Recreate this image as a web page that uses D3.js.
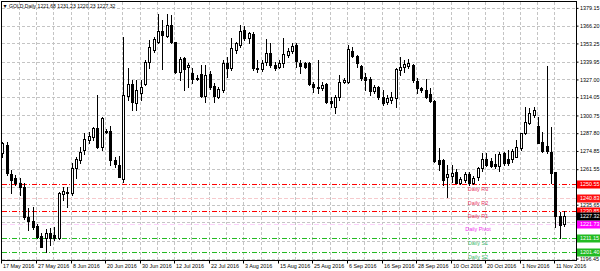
<!DOCTYPE html>
<html>
<head>
<meta charset="utf-8">
<script src="https://cdn.jsdelivr.net/npm/d3@7.9.0/dist/d3.min.js"></script>
<style>
  html, body { margin: 0; padding: 0; background: #fff; }
  svg { display: block; font-family: "Liberation Sans", Arial, sans-serif; }
</style>
</head>
<body>
<div id="chart"></div>
<script>
// ---------- Data ----------
const symbol = "GOLD,Daily";

// one label every 8 daily bars, starting at the first bar
const dateLabels = [
  "17 May 2016", "27 May 2016", "8 Jun 2016", "20 Jun 2016", "30 Jun 2016",
  "12 Jul 2016", "22 Jul 2016", "3 Aug 2016", "15 Aug 2016", "25 Aug 2016",
  "6 Sep 2016", "16 Sep 2016", "28 Sep 2016", "10 Oct 2016", "20 Oct 2016",
  "1 Nov 2016", "11 Nov 2016"
];
const barsPerLabel = 8;

const open = [
  1273.1, 1279.2, 1258.1, 1254.9, 1251.2, 1248.8, 1226.4, 1223.8, 1220.1, 1212.8,
  1211.6, 1214.8, 1213.6, 1211.1, 1243.5, 1245.2, 1244.0, 1262.2, 1268.3, 1275.6,
  1282.9, 1285.3, 1291.8, 1278.0, 1289.2, 1289.4, 1268.3, 1264.6, 1254.2, 1314.9,
  1323.7, 1309.6, 1317.4, 1323.7, 1339.9, 1348.5, 1354.6, 1362.6, 1358.7, 1366.7,
  1354.1, 1332.7, 1342.4, 1335.8, 1331.5, 1327.3, 1331.0, 1315.2, 1331.0, 1322.2,
  1314.4, 1319.3, 1339.2, 1335.1, 1348.5, 1352.1, 1363.1, 1357.0, 1360.2, 1335.6,
  1334.4, 1339.9, 1346.5, 1337.5, 1336.3, 1338.8, 1344.8, 1348.0, 1352.1, 1339.2,
  1338.8, 1339.2, 1323.4, 1321.3, 1320.5, 1323.4, 1311.3, 1307.2, 1314.4, 1325.4,
  1325.4, 1348.0, 1344.1, 1336.8, 1329.0, 1327.3, 1318.8, 1321.3, 1314.4, 1310.8,
  1312.0, 1313.2, 1333.9, 1336.3, 1336.8, 1337.5, 1326.1, 1320.5, 1319.3, 1316.4,
  1311.3, 1268.3, 1268.3, 1256.1, 1256.6, 1259.8, 1251.7, 1253.7, 1258.1, 1251.7,
  1256.1, 1262.2, 1268.8, 1267.8, 1265.4, 1263.9, 1273.1, 1268.8, 1268.8, 1270.7,
  1276.8, 1287.7, 1295.0, 1301.1, 1293.1, 1281.6, 1278.7, 1274.4, 1259.8, 1227.4,
  1221.68
];
const high = [
  1281.6, 1281.6, 1261.0, 1257.0, 1254.9, 1251.7, 1233.0, 1233.7, 1221.6, 1214.8,
  1217.7, 1218.4, 1219.6, 1245.2, 1248.3, 1248.8, 1265.8, 1270.7, 1278.0, 1288.2,
  1288.9, 1292.6, 1315.7, 1299.9, 1290.6, 1293.1, 1270.7, 1271.2, 1358.2, 1335.1,
  1326.6, 1326.6, 1326.6, 1341.2, 1355.8, 1358.2, 1374.7, 1370.4, 1374.7, 1374.0,
  1354.6, 1343.6, 1343.6, 1338.8, 1335.1, 1330.2, 1337.5, 1337.5, 1333.4, 1324.2,
  1321.3, 1341.2, 1343.6, 1357.0, 1354.6, 1366.7, 1366.0, 1361.9, 1361.9, 1341.2,
  1341.2, 1356.3, 1353.3, 1339.9, 1341.2, 1357.0, 1349.7, 1353.3, 1353.3, 1341.2,
  1339.9, 1339.9, 1325.4, 1341.2, 1325.4, 1324.7, 1314.4, 1315.7, 1330.2, 1327.8,
  1352.1, 1350.9, 1344.8, 1337.5, 1331.5, 1328.5, 1322.9, 1322.2, 1319.3, 1315.7,
  1318.1, 1335.1, 1343.6, 1341.2, 1341.7, 1338.0, 1327.8, 1321.7, 1327.1, 1320.5,
  1312.0, 1276.8, 1268.8, 1264.6, 1264.6, 1261.5, 1256.1, 1259.8, 1259.8, 1256.6,
  1263.4, 1273.1, 1273.1, 1269.5, 1272.6, 1274.4, 1274.4, 1275.6, 1276.1, 1282.9,
  1288.2, 1307.2, 1305.9, 1306.7, 1299.9, 1288.9, 1336.8, 1292.6, 1259.8, 1230.6,
  1231.23
];
const low = [
  1270.2, 1257.3, 1243.9, 1250.0, 1242.7, 1225.5, 1217.2, 1217.7, 1211.1, 1204.6,
  1200.9, 1206.3, 1209.9, 1210.4, 1239.1, 1234.2, 1242.7, 1254.9, 1265.8, 1272.6,
  1280.4, 1282.9, 1276.8, 1275.6, 1287.7, 1264.6, 1263.4, 1255.6, 1252.5, 1312.0,
  1304.7, 1304.7, 1312.0, 1322.9, 1335.1, 1347.3, 1353.3, 1334.4, 1358.2, 1353.3,
  1331.5, 1326.6, 1319.3, 1321.7, 1324.2, 1326.6, 1314.0, 1310.8, 1319.8, 1310.8,
  1313.2, 1318.1, 1329.0, 1333.9, 1346.0, 1350.9, 1355.8, 1353.8, 1333.9, 1332.7,
  1333.4, 1337.5, 1336.3, 1333.9, 1335.1, 1336.3, 1343.6, 1346.5, 1336.3, 1331.5,
  1335.1, 1322.9, 1318.1, 1316.9, 1319.3, 1309.6, 1307.2, 1302.3, 1312.0, 1324.2,
  1324.7, 1343.1, 1336.3, 1326.6, 1319.3, 1315.7, 1316.9, 1312.8, 1308.4, 1309.1,
  1309.6, 1307.2, 1330.2, 1332.7, 1335.1, 1325.4, 1316.9, 1318.1, 1313.2, 1310.8,
  1267.0, 1261.0, 1250.0, 1241.5, 1252.5, 1251.2, 1250.8, 1252.5, 1250.0, 1250.8,
  1253.7, 1260.5, 1263.9, 1263.4, 1262.2, 1260.5, 1264.6, 1264.6, 1267.0, 1270.2,
  1275.6, 1287.2, 1294.5, 1299.9, 1280.4, 1274.4, 1273.1, 1251.7, 1219.6, 1211.1,
  1220.23
];
const close = [
  1280.4, 1258.5, 1253.7, 1251.7, 1248.8, 1226.4, 1224.0, 1219.6, 1211.9, 1205.1,
  1214.8, 1211.6, 1211.1, 1244.4, 1245.7, 1244.0, 1262.2, 1268.8, 1274.4, 1283.3,
  1285.8, 1291.4, 1278.0, 1298.6, 1288.4, 1268.3, 1265.4, 1256.1, 1315.7, 1323.7,
  1310.8, 1319.3, 1321.7, 1339.9, 1350.9, 1356.3, 1362.6, 1359.2, 1366.7, 1354.1,
  1332.7, 1341.9, 1334.4, 1337.5, 1327.3, 1328.3, 1315.2, 1330.2, 1321.7, 1314.9,
  1319.8, 1338.8, 1335.1, 1349.7, 1353.3, 1362.6, 1357.0, 1360.6, 1335.1, 1334.6,
  1339.2, 1346.0, 1337.5, 1335.1, 1339.2, 1345.6, 1348.0, 1351.4, 1340.4, 1337.0,
  1336.3, 1323.7, 1321.3, 1321.0, 1322.9, 1310.8, 1309.6, 1314.4, 1325.4, 1326.6,
  1349.0, 1344.1, 1338.8, 1327.8, 1326.6, 1318.6, 1321.3, 1314.0, 1309.6, 1313.2,
  1314.0, 1334.4, 1336.3, 1338.3, 1338.8, 1326.6, 1320.5, 1319.3, 1314.4, 1311.3,
  1267.5, 1265.4, 1253.7, 1258.1, 1258.5, 1251.7, 1254.2, 1258.1, 1251.2, 1255.4,
  1262.2, 1269.0, 1264.6, 1264.1, 1264.1, 1272.6, 1265.8, 1265.8, 1275.1, 1278.0,
  1287.7, 1296.2, 1302.3, 1304.7, 1280.9, 1275.1, 1275.1, 1258.5, 1227.4, 1220.9,
  1227.32
];

// right price scale
const priceTicks = [
  1379.15, 1366.20, 1353.25, 1339.95, 1327.00, 1314.05, 1300.75, 1287.80,
  1274.85, 1261.55, 1248.60, 1235.65, 1222.70, 1209.40, 1196.45
];

// daily pivot levels
const levelNames = ["Daily R3", "Daily R2", "Daily R1", "Daily Pivot", "Daily S1", "Daily S2"];
const levelValues = [1250.55, 1240.83, 1230.85, 1221.73, 1211.15, 1201.40];
const lastPrice = 1227.32;

// ---------- Layout ----------
const width = 600;
const height = 271;
const plot = { left: 1.5, right: 576.5, top: 1.5, bottom: 260.5 };

const levelStyle = {
  "Daily R3":    { line: "#ff0000", dash: "5,2,1,2", box: "#ff0000", text: "#e8325e" },
  "Daily R2":    { line: "#f6cacd", dash: "4,2",     box: "#ff1010", text: "#e8325e" },
  "Daily R1":    { line: "#ff0000", dash: "5,2,1,2", box: "#ff0000", text: "#e8325e" },
  "Daily Pivot": { line: "#fad2fa", dash: "5,3",     box: "#ff00ff", text: "#ee33ee" },
  "Daily S1":    { line: "#22bb22", dash: "5,2,1,2", box: "#22bb22", text: "#3cb96a" },
  "Daily S2":    { line: "#22bb22", dash: "5,2,1,2", box: "#22bb22", text: "#3cb96a" }
};

const svg = d3.select("#chart")
  .append("svg")
  .attr("width", width)
  .attr("height", height)
  .attr("viewBox", [0, 0, width, height]);

// ---------- Scales ----------
const nBars = open.length;
const x = d3.scaleLinear().domain([0, nBars - 1]).range([2.4, 564.0]);
const y = d3.scaleLinear().domain([1196.45, 1379.15]).range([258.5, 7.9]);

const px = (i) => Math.round(x(i));
const py = (v) => Math.round(y(v));

// ---------- Grid ----------
const grid = svg.append("g")
  .attr("stroke", "#c4c4c4")
  .attr("stroke-dasharray", "3,2")
  .attr("shape-rendering", "crispEdges");

grid.selectAll("line.h")
  .data(priceTicks)
  .join("line")
  .attr("class", "h")
  .attr("x1", plot.left).attr("x2", plot.right)
  .attr("y1", (d) => py(d) + 0.5).attr("y2", (d) => py(d) + 0.5);

const gridIdx = d3.range(4, nBars, 4);
grid.selectAll("line.v")
  .data(gridIdx)
  .join("line")
  .attr("class", "v")
  .attr("x1", (d) => px(d) - 0.5).attr("x2", (d) => px(d) - 0.5)
  .attr("y1", plot.top).attr("y2", plot.bottom);

// ---------- Pivot level lines ----------
const levels = levelNames.map((name, k) => ({ name, value: levelValues[k] }));

svg.append("line")
  .attr("x1", plot.left).attr("x2", plot.right)
  .attr("y1", py(lastPrice) + 0.5).attr("y2", py(lastPrice) + 0.5)
  .attr("stroke", "#c0c0c0")
  .attr("shape-rendering", "crispEdges");

svg.append("g")
  .attr("shape-rendering", "crispEdges")
  .selectAll("line")
  .data(levels)
  .join("line")
  .attr("x1", plot.left).attr("x2", plot.right)
  .attr("y1", (d) => py(d.value) + 0.5).attr("y2", (d) => py(d.value) + 0.5)
  .attr("stroke", (d) => levelStyle[d.name].line)
  .attr("stroke-dasharray", (d) => levelStyle[d.name].dash);

// ---------- Candles ----------
const bars = d3.range(nBars).map((i) => ({
  i, o: open[i], h: high[i], l: low[i], c: close[i]
}));

const candles = svg.append("g")
  .attr("shape-rendering", "crispEdges")
  .selectAll("g")
  .data(bars)
  .join("g");

candles.append("line")
  .attr("x1", (d) => px(d.i) + 0.5).attr("x2", (d) => px(d.i) + 0.5)
  .attr("y1", (d) => py(d.h)).attr("y2", (d) => py(d.l) + 1)
  .attr("stroke", "#000");

candles.each(function (d) {
  const g = d3.select(this);
  const xc = px(d.i);
  const top = py(Math.max(d.o, d.c));
  const bot = py(Math.min(d.o, d.c));
  if (bot - top < 1) {
    g.append("rect").attr("x", xc - 1).attr("y", top).attr("width", 3).attr("height", 1).attr("fill", "#000");
  } else if (d.c >= d.o) {
    g.append("rect")
      .attr("x", xc - 0.5).attr("y", top + 0.5)
      .attr("width", 2).attr("height", bot - top)
      .attr("fill", "#fff").attr("stroke", "#000");
  } else {
    g.append("rect")
      .attr("x", xc - 1).attr("y", top)
      .attr("width", 3).attr("height", bot - top + 1)
      .attr("fill", "#000");
  }
});

// ---------- Level captions ----------
svg.append("g")
  .attr("font-size", 5.4)
  .attr("text-anchor", "middle")
  .selectAll("text")
  .data(levels)
  .join("text")
  .attr("x", 478)
  .attr("y", (d) => py(d.value) + 6.5)
  .attr("fill", (d) => levelStyle[d.name].text)
  .text((d) => d.name);

// ---------- Frame ----------
svg.append("rect")
  .attr("x", plot.left).attr("y", plot.top)
  .attr("width", plot.right - plot.left)
  .attr("height", plot.bottom - plot.top)
  .attr("fill", "none")
  .attr("stroke", "#000")
  .attr("shape-rendering", "crispEdges");

// ---------- Right price axis ----------
const boxes = levels.map((d) => d.value).concat([lastPrice]);
const visibleTicks = priceTicks.filter((t) => boxes.every((b) => Math.abs(y(t) - y(b)) > 5));

const yAxis = svg.append("g")
  .attr("transform", `translate(${plot.right},0)`)
  .call(
    d3.axisRight(y)
      .tickValues(visibleTicks)
      .tickSize(2)
      .tickPadding(1.5)
      .tickFormat(d3.format(".2f"))
  );
yAxis.select(".domain").remove();
yAxis.selectAll("text").attr("font-size", 5.4).attr("font-family", null).attr("fill", "#000");
yAxis.selectAll("line").attr("stroke", "#000");

const boxData = levels.map((d) => ({ value: d.value, fill: levelStyle[d.name].box }))
  .concat([{ value: lastPrice, fill: "#000" }]);

const boxG = svg.append("g").selectAll("g").data(boxData).join("g")
  .attr("transform", (d) => `translate(${plot.right + 0.5},${py(d.value) + 0.5})`);
boxG.append("rect")
  .attr("x", 0).attr("y", -4)
  .attr("width", width - plot.right).attr("height", 8)
  .attr("fill", (d) => d.fill);
boxG.append("text")
  .attr("x", 3).attr("dy", "0.35em")
  .attr("font-size", 5.4)
  .attr("fill", "#fff")
  .text((d) => d3.format(".2f")(d.value));

// ---------- Bottom date axis ----------
const labelIdx = dateLabels.map((_, k) => k * barsPerLabel);
const xAxis = svg.append("g")
  .attr("transform", `translate(0,${plot.bottom})`)
  .call(
    d3.axisBottom(x)
      .tickValues(labelIdx)
      .tickSize(3)
      .tickFormat((d) => dateLabels[d / barsPerLabel])
  );
xAxis.select(".domain").remove();
xAxis.selectAll(".tick").attr("transform", (d) => `translate(${px(d) - 0.5},0)`);
xAxis.selectAll("line").attr("stroke", "#000");
xAxis.selectAll("text")
  .attr("font-size", 5.4)
  .attr("font-family", null)
  .attr("fill", "#000")
  .attr("text-anchor", "start")
  .attr("x", 1.5)
  .attr("y", 4)
  .attr("dy", "0.71em");

// ---------- Title ----------
const last = nBars - 1;
const fmt = d3.format(".2f");
svg.append("text")
  .attr("x", 2.5).attr("y", 8)
  .attr("font-size", 5.1)
  .attr("fill", "#000")
  .text(`\u25BC ${symbol}  ${fmt(open[last])} ${fmt(high[last])} ${fmt(low[last])} ${fmt(close[last])}`);
</script>
</body>
</html>
